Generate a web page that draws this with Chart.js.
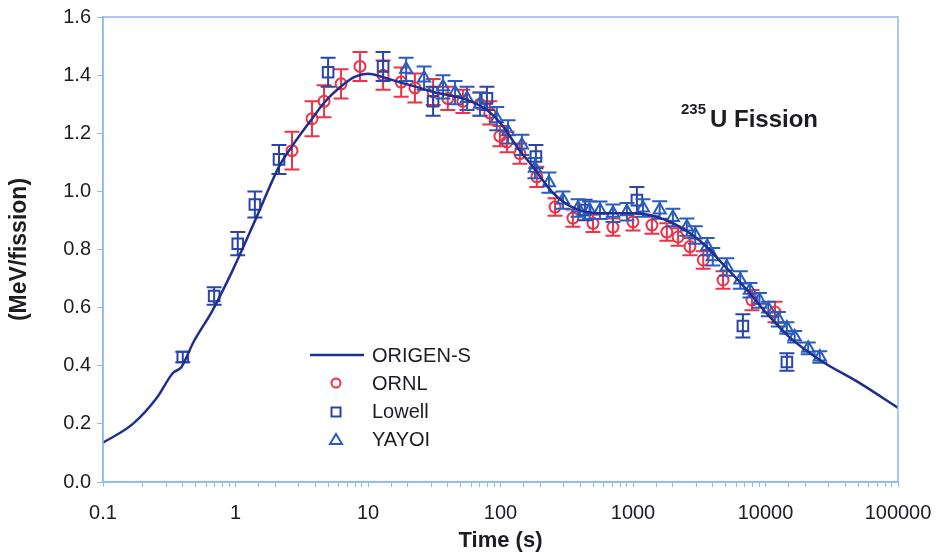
<html>
<head>
<style>
  body { margin: 0; background: #fff; }
  #wrap { width: 937px; height: 556px; }
</style>
</head>
<body>
<div id="wrap"><canvas id="c" width="937" height="556"></canvas></div>
<script src="https://cdn.jsdelivr.net/npm/chart.js@4.4.1/dist/chart.umd.min.js"></script>
<script>
// ORIGEN-S calculation
var origenTime  = [0.1, 0.168, 0.255, 0.337, 0.39, 0.48, 0.67, 0.955, 1.47, 2.13, 2.67, 3.78, 4.66, 6.2, 8, 10, 13, 17.4, 25, 31, 56, 79, 100, 140, 176, 250, 350, 560, 1000, 1800, 3200, 5000, 7600, 10000, 15000, 25700, 51500, 100000];
var origenValue = [0.135, 0.2, 0.29, 0.375, 0.395, 0.48, 0.59, 0.73, 0.92, 1.085, 1.155, 1.25, 1.305, 1.36, 1.395, 1.405, 1.393, 1.375, 1.355, 1.342, 1.315, 1.28, 1.235, 1.14, 1.084, 0.994, 0.945, 0.925, 0.925, 0.9, 0.83, 0.74, 0.65, 0.585, 0.5, 0.42, 0.34, 0.255];

// ORNL measurements
var ornlTime  = [2.67, 3.78, 4.66, 6.26, 8.7, 13, 17.8, 22.6, 31, 40, 52, 70, 83, 99, 112, 140, 188, 258, 352, 499, 706, 1000, 1390, 1800, 2190, 2690, 3390, 4780, 7900, 11800];
var ornlValue = [1.14, 1.25, 1.31, 1.37, 1.43, 1.40, 1.376, 1.356, 1.342, 1.32, 1.31, 1.30, 1.27, 1.19, 1.17, 1.13, 1.05, 0.946, 0.908, 0.89, 0.877, 0.895, 0.884, 0.86, 0.843, 0.81, 0.764, 0.695, 0.626, 0.585];
var ornlError = [0.065, 0.06, 0.055, 0.05, 0.05, 0.05, 0.05, 0.05, 0.045, 0.04, 0.04, 0.04, 0.04, 0.035, 0.035, 0.035, 0.035, 0.03, 0.03, 0.03, 0.03, 0.03, 0.03, 0.03, 0.03, 0.03, 0.03, 0.03, 0.035, 0.035];

// Lowell measurements
var lowellTime  = [0.40, 0.69, 1.04, 1.40, 2.13, 5.0, 13, 31, 79, 185, 435, 1070, 6750, 14500];
var lowellValue = [0.43, 0.64, 0.82, 0.955, 1.11, 1.41, 1.43, 1.31, 1.32, 1.12, 0.936, 0.97, 0.537, 0.413];
var lowellError = [0.018, 0.03, 0.04, 0.045, 0.05, 0.05, 0.05, 0.05, 0.04, 0.04, 0.035, 0.045, 0.04, 0.03];

// YAYOI measurements
var yayoiTime  = [19.4, 26.5, 36.8, 45.4, 55.9, 70, 93.7, 114, 145, 182, 232, 296, 385, 470, 563, 706, 900, 1190, 1590, 2000, 2550, 2950, 3630, 4000, 5100, 6450, 7630, 9000, 10500, 12500, 14500, 16600, 21000, 25700];
var yayoiValue = [1.42, 1.39, 1.36, 1.34, 1.32, 1.30, 1.25, 1.205, 1.16, 1.08, 1.03, 0.97, 0.943, 0.935, 0.935, 0.925, 0.93, 0.943, 0.936, 0.91, 0.877, 0.85, 0.81, 0.775, 0.74, 0.695, 0.66, 0.625, 0.595, 0.56, 0.53, 0.50, 0.46, 0.43];
var yayoiError = [0.04, 0.04, 0.04, 0.04, 0.04, 0.04, 0.04, 0.04, 0.035, 0.035, 0.035, 0.03, 0.03, 0.03, 0.03, 0.03, 0.03, 0.03, 0.03, 0.03, 0.03, 0.03, 0.03, 0.03, 0.03, 0.03, 0.025, 0.025, 0.025, 0.025, 0.02, 0.02, 0.02, 0.02];

var xTickLabels = ['0.1', '1', '10', '100', '1000', '10000', '100000'];
var yTickLabels = ['0.0', '0.2', '0.4', '0.6', '0.8', '1.0', '1.2', '1.4', '1.6'];

var axisBlue = '#8fb8ee';
var textCol = '#1c1c24';
var red = '#ee3347';
var navy = '#1f2f8f';
var blue = '#2b44a8';
var blue2 = '#2a5cc0';
var fam = '"Liberation Sans", Arial, sans-serif';

function pts(t, v) {
    return t.map(function (x, i) { return { x: x, y: v[i] }; });
}

// error bars + frame + legend + label
var extras = {
    id: 'extras',
    afterDatasetDraw: function (chart, args) {
        var ds = chart.data.datasets[args.index];
        if (!ds.errors) return;
        var ctx = chart.ctx, xs = chart.scales.x, ys = chart.scales.y;
        ctx.save();
        ctx.strokeStyle = ds.borderColor;
        ctx.lineWidth = 2;
        ds.data.forEach(function (p, i) {
            var px = xs.getPixelForValue(p.x);
            var top = ys.getPixelForValue(p.y + ds.errors[i]);
            var bot = ys.getPixelForValue(p.y - ds.errors[i]);
            ctx.beginPath();
            ctx.moveTo(px, top); ctx.lineTo(px, bot);
            ctx.moveTo(px - 7.5, top); ctx.lineTo(px + 7.5, top);
            ctx.moveTo(px - 7.5, bot); ctx.lineTo(px + 7.5, bot);
            ctx.stroke();
        });
        ctx.restore();
    },
    afterDraw: function (chart) {
        var ctx = chart.ctx, a = chart.chartArea;
        ctx.save();
        ctx.strokeStyle = axisBlue;
        ctx.lineWidth = 1.5;
        ctx.strokeRect(a.left, a.top, a.right - a.left, a.bottom - a.top);

        // legend
        var lx = a.left + 207, ly = a.top + 338;
        ctx.font = '20px ' + fam;
        ctx.fillStyle = textCol;
        ctx.textBaseline = 'middle';
        ctx.strokeStyle = navy; ctx.lineWidth = 2.5;
        ctx.beginPath(); ctx.moveTo(lx, ly); ctx.lineTo(lx + 54, ly); ctx.stroke();
        ctx.fillText('ORIGEN-S', lx + 62, ly + 1);
        ctx.lineWidth = 2;
        ctx.strokeStyle = red;
        ctx.beginPath(); ctx.arc(lx + 26, ly + 28, 4.5, 0, Math.PI * 2); ctx.stroke();
        ctx.fillText('ORNL', lx + 62, ly + 29);
        ctx.strokeStyle = blue;
        ctx.strokeRect(lx + 21.5, ly + 52.5, 9, 9);
        ctx.fillText('Lowell', lx + 62, ly + 57);
        ctx.strokeStyle = blue2;
        ctx.beginPath();
        ctx.moveTo(lx + 26, ly + 79); ctx.lineTo(lx + 32, ly + 89); ctx.lineTo(lx + 20, ly + 89); ctx.closePath();
        ctx.stroke();
        ctx.fillText('YAYOI', lx + 62, ly + 85);

        // isotope label
        var tx = a.left + 607, tyb = a.top + 110;
        ctx.textBaseline = 'alphabetic';
        ctx.font = 'bold 15px ' + fam;
        ctx.fillText('235', tx - 29, tyb - 13);
        ctx.font = 'bold 24px ' + fam;
        ctx.fillText('U Fission', tx, tyb);
        ctx.restore();
    }
};

new Chart(document.getElementById('c'), {
    type: 'scatter',
    data: {
        datasets: [
            {
                label: 'ORIGEN-S', type: 'line', data: pts(origenTime, origenValue),
                borderColor: navy, borderWidth: 2.5, pointRadius: 0, fill: false,
                cubicInterpolationMode: 'monotone', order: 0
            },
            {
                label: 'YAYOI', data: pts(yayoiTime, yayoiValue), errors: yayoiError,
                borderColor: blue2, backgroundColor: 'rgba(0,0,0,0)', pointStyle: 'triangle',
                pointRadius: 7, borderWidth: 2, order: 1
            },
            {
                label: 'Lowell', data: pts(lowellTime, lowellValue), errors: lowellError,
                borderColor: blue, backgroundColor: 'rgba(0,0,0,0)', pointStyle: 'rect',
                pointRadius: 7.5, borderWidth: 2, order: 2
            },
            {
                label: 'ORNL', data: pts(ornlTime, ornlValue), errors: ornlError,
                borderColor: red, backgroundColor: 'rgba(0,0,0,0)', pointStyle: 'circle',
                pointRadius: 5.5, borderWidth: 2, order: 3
            }
        ]
    },
    options: {
        responsive: false,
        animation: false,
        layout: { padding: { left: 6, top: 17, right: 39, bottom: 0 } },
        plugins: { legend: { display: false }, tooltip: { enabled: false } },
        scales: {
            x: {
                type: 'logarithmic', min: 0.1, max: 100000,
                afterFit: function (s) { s.height = 74; s.paddingLeft = 0; s.paddingRight = 0; },
                grid: { display: true, drawOnChartArea: false, color: axisBlue, tickLength: 5 },
                border: { color: axisBlue, width: 1.5 },
                ticks: {
                    autoSkip: false, maxRotation: 0, padding: 14, color: textCol,
                    font: { family: fam, size: 20 },
                    callback: function (v) {
                        var e = Math.log10(v) + 1;
                        if (Math.abs(e - Math.round(e)) < 1e-6) return xTickLabels[Math.round(e)];
                        return '';
                    }
                },
                title: {
                    display: true, text: 'Time (s)', color: textCol,
                    font: { family: fam, size: 22, weight: 'bold' },
                    padding: { top: 0, bottom: 2 }
                }
            },
            y: {
                min: 0, max: 1.6,
                afterFit: function (s) { s.width = 97; s.paddingTop = 0; s.paddingBottom = 0; },
                grid: { display: true, drawOnChartArea: false, color: axisBlue, tickLength: 6 },
                border: { color: axisBlue, width: 1.5 },
                ticks: {
                    stepSize: 0.2, padding: 6, color: textCol,
                    font: { family: fam, size: 20 },
                    callback: function (v) { return yTickLabels[Math.round(v / 0.2)]; }
                },
                title: {
                    display: true, text: '(MeV/fission)', color: textCol,
                    font: { family: fam, size: 23, weight: 'bold' },
                    padding: { top: 0, bottom: 0 }
                }
            }
        }
    },
    plugins: [extras]
});
</script>
</body>
</html>
